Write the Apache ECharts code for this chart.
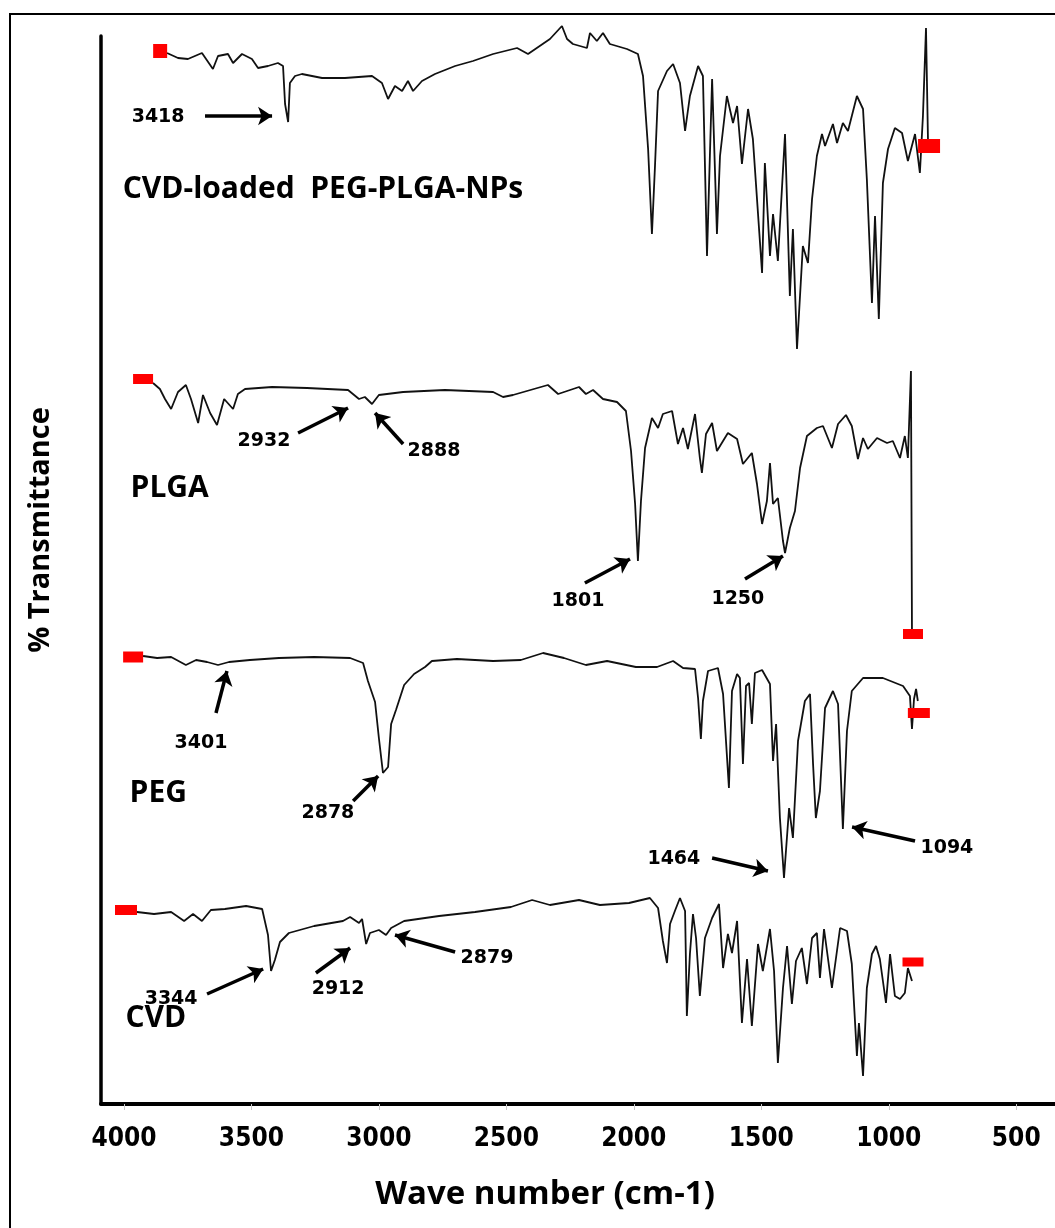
<!DOCTYPE html>
<html>
<head>
<meta charset="utf-8">
<script src="https://cdn.jsdelivr.net/npm/echarts@6/dist/echarts.min.js"></script>
<style>html,body{margin:0;padding:0;background:#fff}#c{width:1055px;height:1228px}</style>
</head>
<body>
<div id="c"></div>
<script>
// x: wave number (cm-1); y: offset % transmittance (arbitrary units, stacked spectra)
const tickValues = [4000, 3500, 3000, 2500, 2000, 1500, 1000, 500];

const cvdLoadedNPs = [
[3831,1051],[3788,1046],[3749,1045],[3694,1051],[3651,1035],[3631,1048],[3592,1050],[3572,1041],[3537,1050],[3498,1045],
[3474,1036],[3435,1038],[3396,1041],[3376,1038],[3368,1000],[3356,982],[3349,1021],[3329,1028],[3302,1030],[3223,1026],
[3133,1026],[3027,1028],[2988,1021],[2964,1005],[2937,1018],[2909,1013],[2886,1023],[2866,1013],[2831,1023],[2780,1030],
[2701,1038],[2631,1043],[2552,1050],[2458,1056],[2415,1050],[2329,1065],[2282,1078],[2262,1065],[2239,1060],[2184,1056],
[2172,1071],[2145,1063],[2121,1071],[2094,1060],[2027,1055],[1984,1050],[1964,1028],[1944,955],[1929,870],[1917,938],
[1905,1013],[1870,1033],[1846,1040],[1819,1021],[1799,973],[1780,1008],[1748,1038],[1729,1028],[1713,848],[1693,1025],
[1674,870],[1662,948],[1635,1008],[1611,981],[1595,998],[1576,940],[1552,995],[1533,965],[1497,831],[1486,941],
[1466,848],[1454,890],[1435,843],[1407,970],[1388,808],[1376,875],[1360,755],[1337,858],[1317,841],[1301,905],
[1282,948],[1262,970],[1250,958],[1219,980],[1203,961],[1180,981],[1160,973],[1125,1008],[1101,995],[1086,925],
[1066,801],[1054,888],[1039,785],[1023,921],[1003,955],[976,976],[948,971],[925,943],[897,970],[878,931],
[866,988],[854,1076],[846,961]
];

const plga = [
[3886,721],[3859,715],[3839,705],[3815,695],[3788,712],[3757,719],[3737,705],[3709,681],[3690,709],[3662,691],
[3635,679],[3607,705],[3572,695],[3553,710],[3525,715],[3419,717],[3282,716],[3121,714],[3078,705],[3055,707],
[3027,700],[3000,709],[2905,712],[2741,714],[2552,712],[2513,707],[2474,709],[2392,715],[2337,719],[2297,710],
[2215,717],[2188,710],[2160,714],[2121,705],[2066,702],[2031,693],[2011,653],[1995,600],[1984,543],[1972,603],
[1956,656],[1929,686],[1905,676],[1886,690],[1850,693],[1827,660],[1807,676],[1788,655],[1760,690],[1741,646],
[1733,631],[1717,670],[1693,681],[1674,653],[1631,671],[1595,665],[1572,640],[1537,651],[1517,620],[1497,580],
[1478,603],[1466,641],[1454,600],[1435,606],[1415,563],[1407,551],[1388,576],[1368,593],[1348,636],[1321,668],
[1282,676],[1258,678],[1223,656],[1199,680],[1168,689],[1145,678],[1121,645],[1101,666],[1082,655],[1046,666],
[1007,661],[984,663],[956,646],[937,668],[925,646],[913,733],[909,471]
];

const peg = [
[3925,448],[3870,446],[3815,447],[3757,439],[3717,444],[3674,442],[3631,439],[3588,442],[3506,444],[3392,446],
[3254,447],[3113,446],[3062,441],[3043,423],[3015,402],[3000,366],[2984,331],[2964,337],[2952,380],[2933,394],
[2901,419],[2862,430],[2819,437],[2792,443],[2694,445],[2552,443],[2443,444],[2356,451],[2274,446],[2188,439],
[2105,443],[1992,437],[1909,437],[1846,443],[1807,436],[1760,435],[1748,406],[1737,365],[1729,403],[1709,433],
[1670,436],[1650,410],[1627,316],[1615,413],[1595,430],[1584,426],[1572,340],[1560,418],[1548,421],[1537,380],
[1525,431],[1497,434],[1466,420],[1454,343],[1442,380],[1427,286],[1411,226],[1391,296],[1376,266],[1356,363],
[1329,403],[1309,410],[1297,340],[1286,286],[1270,313],[1250,396],[1219,413],[1199,400],[1180,275],[1164,373],
[1145,413],[1101,426],[1023,426],[944,418],[917,408],[909,375],[901,405],[893,415],[886,403]
];

const cvd = [
[3949,192],[3882,190],[3815,192],[3764,183],[3729,190],[3694,183],[3659,194],[3604,195],[3521,198],[3458,195],
[3435,169],[3423,133],[3408,144],[3388,162],[3353,171],[3254,178],[3141,183],[3113,187],[3078,181],[3066,185],
[3050,160],[3035,171],[3000,174],[2972,169],[2952,176],[2901,183],[2764,188],[2623,192],[2482,197],[2399,204],
[2329,199],[2215,204],[2133,199],[2019,201],[1937,206],[1905,196],[1886,163],[1870,141],[1858,180],[1839,193],
[1819,206],[1799,193],[1792,88],[1780,150],[1768,190],[1756,166],[1741,108],[1721,166],[1693,186],[1666,200],
[1650,136],[1631,170],[1615,151],[1595,183],[1576,81],[1556,145],[1537,78],[1513,160],[1494,133],[1466,175],
[1450,133],[1435,41],[1415,116],[1399,158],[1380,100],[1364,143],[1341,156],[1321,120],[1301,166],[1282,171],
[1270,126],[1254,175],[1223,116],[1191,176],[1164,173],[1145,140],[1125,48],[1117,81],[1101,28],[1086,116],
[1066,150],[1050,158],[1035,145],[1011,101],[995,150],[976,108],[956,105],[937,111],[925,136],[909,123]
];

// red start / end markers of each trace
const endMarkers = [[3858,1053],[842,958],[3925,725],[905,470],[3964,447],[882,391],[3992,194],[905,142]];

// peak annotations: text, wave number, y
const peakLabels = [
['3418',3866,987],['2932',3451,663],['2888',2784,653],['1801',2219,503],['1250',1592,505],
['3401',3698,361],['2878',3200,291],['1464',1843,245],['1094',772,256],
['3344',3815,105],['2912',3160,115],['2879',2576,146]
];

// sample names: text, wave number of left edge, y
const sampleLabels = [
['CVD-loaded  PEG-PLGA-NPs',4007,915],['PLGA',3976,616],['PEG',3980,311],['CVD',3996,86]
];

// arrows: [from, to]
const arrows = [
[[3682,988],[3419,988]],
[[3317,671],[3121,696]],
[[2905,660],[3015,691]],
[[2192,521],[2015,545]],
[[1564,525],[1415,548]],
[[3639,391],[3596,433]],
[[3101,303],[3003,328]],
[[1693,246],[1474,233]],
[[897,263],[1144,277]],
[[3674,110],[3454,135]],
[[3247,131],[3113,156]],
[[2701,152],[2937,169]]
];

const markerSizes = [[14,14],[22,14],[20,10],[20,10],[20,11],[22,10],[22,10],[21,9]];
const lineStyleSpec = {color:'#111', width:1.8};
const boldSans = "'Open Sans', 'Noto Sans', sans-serif";

const chart = echarts.init(document.getElementById('c'), null, {renderer:'canvas'});
const spectra = [cvdLoadedNPs, plga, peg, cvd];

chart.setOption({
  animation:false,
  backgroundColor:'#fff',
  grid:{left:101, right:0, top:36, bottom:124},
  graphic:[{type:'rect', silent:true, shape:{x:10,y:14,width:1100,height:1300}, style:{fill:'none', stroke:'#000', lineWidth:2}}],
  xAxis:{
    type:'value', inverse:true, min:348, max:4090,
    axisLine:{show:true, onZero:false, lineStyle:{color:'#000', width:4}},
    axisTick:{show:true, customValues:tickValues, length:6, lineStyle:{color:'#c8c8c8', width:1}},
    axisLabel:{customValues:tickValues, formatter:v => String(v), color:'#000', fontWeight:'bold', fontSize:26,
      fontFamily:"'Liberation Sans Narrow', 'DejaVu Sans Condensed', sans-serif", margin:22},
    splitLine:{show:false},
    name:'Wave number (cm-1)', nameLocation:'middle', nameGap:74,
    nameTextStyle:{color:'#000', fontWeight:'bold', fontSize:33, fontFamily:boldSans, padding:[0,66,0,0]}
  },
  yAxis:{
    type:'value', min:0, max:1068,
    axisLine:{show:true, lineStyle:{color:'#000', width:3.5}},
    axisTick:{show:false}, axisLabel:{show:false}, splitLine:{show:false},
    name:'% Transmittance', nameLocation:'middle', nameGap:46, nameRotate:90,
    nameTextStyle:{color:'#000', fontWeight:'bold', fontSize:29, fontFamily:boldSans, padding:[0,0,0,80]}
  },
  series: [
    ...spectra.map(d => ({type:'line', data:d, showSymbol:false, symbol:'none', clip:false, lineStyle:lineStyleSpec, z:3, silent:true})),
    {type:'scatter', symbol:'rect', z:4, silent:true, clip:false,
     data:endMarkers.map((m,i)=>({value:m, symbolSize:markerSizes[i]})), itemStyle:{color:'#ff0000', opacity:1}},
    {type:'lines', coordinateSystem:'cartesian2d', z:5, silent:true,
     data:arrows.map(a=>({coords:a})), symbol:['none','arrow'], symbolSize:14,
     lineStyle:{color:'#000', width:3.5, opacity:1, curveness:0}},
    {type:'scatter', z:6, silent:true, symbolSize:1, itemStyle:{color:'#fff', opacity:0},
     data:peakLabels.map(p=>({name:p[0], value:[p[1],p[2]]})),
     label:{show:true, position:'inside', formatter:'{b}', color:'#000', opacity:1, fontWeight:'bold', fontSize:19,
       fontFamily:"'DejaVu Sans', sans-serif"}},
    {type:'scatter', z:6, silent:true, symbolSize:1, itemStyle:{color:'#fff', opacity:0},
     data:sampleLabels.map(p=>({name:p[0], value:[p[1],p[2]]})),
     label:{show:true, position:'right', distance:0, formatter:'{b}', color:'#000', opacity:1, fontWeight:'bold', fontSize:30,
       fontFamily:boldSans}}
  ]
});
</script>
</body>
</html>
